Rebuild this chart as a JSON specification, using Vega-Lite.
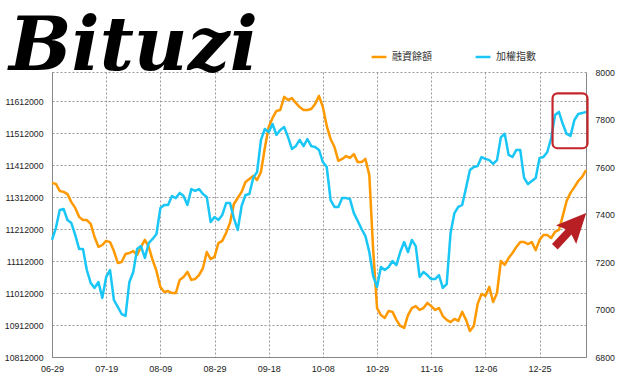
{
  "$schema": "https://vega.github.io/schema/vega-lite/v6.json",
  "width": 534,
  "height": 285,
  "autosize": {"type": "none"},
  "padding": {"left": 52, "top": 72, "right": 34, "bottom": 22},
  "background": "white",
  "view": {"stroke": "#999", "strokeDash": [2, 2], "strokeWidth": 1},
  "title": {
    "text": "Bituzi",
    "anchor": "start",
    "frame": "group",
    "font": "DejaVu Serif",
    "fontSize": 74,
    "fontStyle": "italic",
    "fontWeight": "bold",
    "color": "#000000",
    "dx": -43,
    "dy": 102,
    "offset": 6,
    "baseline": "alphabetic"
  },
  "data": {
    "values": [
      {"date": "2012-06-29", "margin": 11356000, "index": 7293},
      {"date": "2012-07-02", "margin": 11353000, "index": 7343},
      {"date": "2012-07-03", "margin": 11331000, "index": 7419},
      {"date": "2012-07-04", "margin": 11328000, "index": 7423},
      {"date": "2012-07-05", "margin": 11321000, "index": 7377},
      {"date": "2012-07-06", "margin": 11296000, "index": 7364},
      {"date": "2012-07-09", "margin": 11278000, "index": 7314},
      {"date": "2012-07-10", "margin": 11250000, "index": 7255},
      {"date": "2012-07-11", "margin": 11240000, "index": 7255},
      {"date": "2012-07-12", "margin": 11240000, "index": 7166},
      {"date": "2012-07-13", "margin": 11228000, "index": 7112},
      {"date": "2012-07-16", "margin": 11187000, "index": 7091},
      {"date": "2012-07-17", "margin": 11156000, "index": 7116},
      {"date": "2012-07-18", "margin": 11162000, "index": 7049},
      {"date": "2012-07-19", "margin": 11175000, "index": 7137},
      {"date": "2012-07-20", "margin": 11171000, "index": 7166},
      {"date": "2012-07-23", "margin": 11143000, "index": 7040},
      {"date": "2012-07-24", "margin": 11106000, "index": 7011},
      {"date": "2012-07-25", "margin": 11109000, "index": 6981},
      {"date": "2012-07-26", "margin": 11134000, "index": 6973},
      {"date": "2012-07-27", "margin": 11137000, "index": 7116},
      {"date": "2012-07-30", "margin": 11143000, "index": 7158},
      {"date": "2012-07-31", "margin": 11131000, "index": 7255},
      {"date": "2012-08-01", "margin": 11156000, "index": 7267},
      {"date": "2012-08-03", "margin": 11178000, "index": 7217},
      {"date": "2012-08-06", "margin": 11156000, "index": 7280},
      {"date": "2012-08-07", "margin": 11115000, "index": 7297},
      {"date": "2012-08-08", "margin": 11081000, "index": 7318},
      {"date": "2012-08-09", "margin": 11031000, "index": 7427},
      {"date": "2012-08-10", "margin": 11015000, "index": 7440},
      {"date": "2012-08-13", "margin": 11018000, "index": 7440},
      {"date": "2012-08-14", "margin": 11012000, "index": 7478},
      {"date": "2012-08-15", "margin": 11012000, "index": 7469},
      {"date": "2012-08-16", "margin": 11053000, "index": 7491},
      {"date": "2012-08-17", "margin": 11062000, "index": 7478},
      {"date": "2012-08-20", "margin": 11078000, "index": 7440},
      {"date": "2012-08-21", "margin": 11053000, "index": 7507},
      {"date": "2012-08-22", "margin": 11056000, "index": 7499},
      {"date": "2012-08-23", "margin": 11068000, "index": 7507},
      {"date": "2012-08-24", "margin": 11090000, "index": 7486},
      {"date": "2012-08-27", "margin": 11140000, "index": 7474},
      {"date": "2012-08-28", "margin": 11118000, "index": 7368},
      {"date": "2012-08-29", "margin": 11125000, "index": 7389},
      {"date": "2012-08-30", "margin": 11168000, "index": 7377},
      {"date": "2012-08-31", "margin": 11175000, "index": 7398},
      {"date": "2012-09-03", "margin": 11200000, "index": 7448},
      {"date": "2012-09-04", "margin": 11231000, "index": 7448},
      {"date": "2012-09-05", "margin": 11290000, "index": 7385},
      {"date": "2012-09-06", "margin": 11309000, "index": 7335},
      {"date": "2012-09-07", "margin": 11328000, "index": 7436},
      {"date": "2012-09-10", "margin": 11359000, "index": 7482},
      {"date": "2012-09-11", "margin": 11368000, "index": 7486},
      {"date": "2012-09-12", "margin": 11378000, "index": 7554},
      {"date": "2012-09-13", "margin": 11365000, "index": 7579},
      {"date": "2012-09-14", "margin": 11390000, "index": 7714},
      {"date": "2012-09-17", "margin": 11465000, "index": 7760},
      {"date": "2012-09-18", "margin": 11531000, "index": 7747},
      {"date": "2012-09-19", "margin": 11559000, "index": 7781},
      {"date": "2012-09-20", "margin": 11581000, "index": 7735},
      {"date": "2012-09-21", "margin": 11584000, "index": 7756},
      {"date": "2012-09-24", "margin": 11625000, "index": 7768},
      {"date": "2012-09-25", "margin": 11615000, "index": 7726},
      {"date": "2012-09-26", "margin": 11621000, "index": 7676},
      {"date": "2012-09-27", "margin": 11606000, "index": 7688},
      {"date": "2012-09-28", "margin": 11593000, "index": 7714},
      {"date": "2012-10-01", "margin": 11584000, "index": 7688},
      {"date": "2012-10-02", "margin": 11584000, "index": 7718},
      {"date": "2012-10-03", "margin": 11587000, "index": 7688},
      {"date": "2012-10-04", "margin": 11603000, "index": 7684},
      {"date": "2012-10-05", "margin": 11628000, "index": 7672},
      {"date": "2012-10-08", "margin": 11593000, "index": 7621},
      {"date": "2012-10-09", "margin": 11534000, "index": 7600},
      {"date": "2012-10-11", "margin": 11493000, "index": 7461},
      {"date": "2012-10-12", "margin": 11468000, "index": 7432},
      {"date": "2012-10-15", "margin": 11425000, "index": 7432},
      {"date": "2012-10-16", "margin": 11431000, "index": 7469},
      {"date": "2012-10-17", "margin": 11440000, "index": 7469},
      {"date": "2012-10-18", "margin": 11434000, "index": 7465},
      {"date": "2012-10-19", "margin": 11446000, "index": 7406},
      {"date": "2012-10-22", "margin": 11421000, "index": 7373},
      {"date": "2012-10-23", "margin": 11421000, "index": 7339},
      {"date": "2012-10-24", "margin": 11431000, "index": 7309},
      {"date": "2012-10-25", "margin": 11381000, "index": 7242},
      {"date": "2012-10-26", "margin": 11146000, "index": 7141},
      {"date": "2012-10-29", "margin": 10965000, "index": 7095},
      {"date": "2012-10-30", "margin": 10943000, "index": 7179},
      {"date": "2012-10-31", "margin": 10934000, "index": 7166},
      {"date": "2012-11-01", "margin": 10956000, "index": 7179},
      {"date": "2012-11-02", "margin": 10953000, "index": 7204},
      {"date": "2012-11-05", "margin": 10928000, "index": 7187},
      {"date": "2012-11-06", "margin": 10909000, "index": 7242},
      {"date": "2012-11-07", "margin": 10903000, "index": 7284},
      {"date": "2012-11-08", "margin": 10943000, "index": 7242},
      {"date": "2012-11-09", "margin": 10965000, "index": 7293},
      {"date": "2012-11-12", "margin": 10971000, "index": 7267},
      {"date": "2012-11-13", "margin": 10959000, "index": 7137},
      {"date": "2012-11-14", "margin": 10965000, "index": 7158},
      {"date": "2012-11-15", "margin": 10981000, "index": 7145},
      {"date": "2012-11-16", "margin": 10971000, "index": 7128},
      {"date": "2012-11-19", "margin": 10959000, "index": 7128},
      {"date": "2012-11-20", "margin": 10965000, "index": 7145},
      {"date": "2012-11-21", "margin": 10940000, "index": 7091},
      {"date": "2012-11-22", "margin": 10928000, "index": 7107},
      {"date": "2012-11-23", "margin": 10921000, "index": 7322},
      {"date": "2012-11-26", "margin": 10931000, "index": 7406},
      {"date": "2012-11-27", "margin": 10925000, "index": 7432},
      {"date": "2012-11-28", "margin": 10953000, "index": 7440},
      {"date": "2012-11-29", "margin": 10928000, "index": 7512},
      {"date": "2012-11-30", "margin": 10893000, "index": 7587},
      {"date": "2012-12-03", "margin": 10909000, "index": 7600},
      {"date": "2012-12-04", "margin": 10978000, "index": 7604},
      {"date": "2012-12-05", "margin": 11009000, "index": 7642},
      {"date": "2012-12-06", "margin": 11003000, "index": 7634},
      {"date": "2012-12-07", "margin": 11031000, "index": 7629},
      {"date": "2012-12-10", "margin": 10984000, "index": 7613},
      {"date": "2012-12-11", "margin": 11012000, "index": 7629},
      {"date": "2012-12-12", "margin": 11112000, "index": 7725},
      {"date": "2012-12-13", "margin": 11100000, "index": 7740},
      {"date": "2012-12-14", "margin": 11121000, "index": 7651},
      {"date": "2012-12-17", "margin": 11137000, "index": 7642},
      {"date": "2012-12-18", "margin": 11156000, "index": 7672},
      {"date": "2012-12-19", "margin": 11171000, "index": 7672},
      {"date": "2012-12-20", "margin": 11171000, "index": 7554},
      {"date": "2012-12-21", "margin": 11165000, "index": 7528},
      {"date": "2012-12-22", "margin": 11171000, "index": 7541},
      {"date": "2012-12-24", "margin": 11146000, "index": 7554},
      {"date": "2012-12-25", "margin": 11178000, "index": 7638},
      {"date": "2012-12-26", "margin": 11193000, "index": 7642},
      {"date": "2012-12-27", "margin": 11193000, "index": 7663},
      {"date": "2012-12-28", "margin": 11184000, "index": 7722},
      {"date": "2013-01-02", "margin": 11203000, "index": 7819},
      {"date": "2013-01-03", "margin": 11209000, "index": 7832},
      {"date": "2013-01-04", "margin": 11253000, "index": 7781},
      {"date": "2013-01-07", "margin": 11300000, "index": 7739},
      {"date": "2013-01-08", "margin": 11325000, "index": 7731},
      {"date": "2013-01-09", "margin": 11343000, "index": 7798},
      {"date": "2013-01-10", "margin": 11362000, "index": 7823},
      {"date": "2013-01-11", "margin": 11375000, "index": 7827},
      {"date": "2013-01-14", "margin": 11396000, "index": 7832}
    ]
  },
  "layer": [
    {
      "mark": {"type": "line", "strokeWidth": 2.5, "strokeJoin": "round"},
      "encoding": {
        "x": {
          "field": "date",
          "type": "ordinal",
          "scale": {"type": "point", "padding": 0},
          "axis": {
            "title": null,
            "values": ["2012-06-29", "2012-07-19", "2012-08-09", "2012-08-29", "2012-09-18", "2012-10-08", "2012-10-29", "2012-11-16", "2012-12-06", "2012-12-25"],
            "labelExpr": "substring(datum.value, 5)",
            "labelAngle": 0,
            "labelFont": "Liberation Sans",
            "labelFontSize": 9,
            "labelColor": "#222",
            "labelPadding": 7,
            "ticks": false,
            "domainColor": "#888",
            "grid": true,
            "gridColor": "#999",
            "gridDash": [2, 2],
            "gridWidth": 1
          }
        },
        "y": {
          "field": "margin",
          "type": "quantitative",
          "scale": {"domain": [10812000, 11702625], "nice": false, "zero": false},
          "axis": {
            "title": null,
            "values": [10812000, 10912000, 11012000, 11112000, 11212000, 11312000, 11412000, 11512000, 11612000],
            "format": "d",
            "labelFont": "Liberation Sans",
            "labelFontSize": 8.7,
            "labelColor": "#222",
            "labelPadding": 9,
            "ticks": false,
            "domainColor": "#888",
            "grid": true,
            "gridColor": "#999",
            "gridDash": [2, 2],
            "gridWidth": 1
          }
        },
        "color": {
          "datum": "融資餘額",
          "scale": {"domain": ["融資餘額", "加權指數"], "range": ["#ff9900", "#19c6f5"]},
          "legend": {
            "orient": "none",
            "legendX": 318,
            "legendY": -24,
            "direction": "horizontal",
            "title": null,
            "symbolType": "stroke",
            "symbolStrokeWidth": 2.5,
            "symbolSize": 220,
            "labelFont": "Noto Sans CJK TC",
            "labelFontSize": 10,
            "labelColor": "#333",
            "columnPadding": 38
          }
        }
      }
    },
    {
      "layer": [
        {
          "mark": {"type": "line", "strokeWidth": 2.5, "strokeJoin": "round"},
          "encoding": {
            "x": {
              "field": "date",
              "type": "ordinal",
              "scale": {"type": "point", "padding": 0},
              "axis": {
                "title": null,
                "values": ["2012-06-29", "2012-07-19", "2012-08-09", "2012-08-29", "2012-09-18", "2012-10-08", "2012-10-29", "2012-11-16", "2012-12-06", "2012-12-25"],
                "labelExpr": "substring(datum.value, 5)",
                "labelAngle": 0,
                "labelFont": "Liberation Sans",
                "labelFontSize": 9,
                "labelColor": "#222",
                "labelPadding": 7,
                "ticks": false,
                "domainColor": "#888",
                "grid": true,
                "gridColor": "#999",
                "gridDash": [2, 2],
                "gridWidth": 1
              }
            },
            "y": {
              "field": "index",
              "type": "quantitative",
              "scale": {"domain": [6800, 8000], "nice": false, "zero": false},
              "axis": {
                "title": null,
                "orient": "right",
                "values": [6800, 7000, 7200, 7400, 7600, 7800, 8000],
                "format": "d",
                "labelFont": "Liberation Sans",
                "labelFontSize": 8.7,
                "labelColor": "#222",
                "labelPadding": 9,
                "ticks": false,
                "domainColor": "#888",
                "grid": false
              }
            },
            "color": {"datum": "加權指數"}
          }
        },
        {
          "data": {"values": [{"start": "2013-01-02", "end": "2013-01-14", "low": 7679, "high": 7910}]},
          "mark": {"type": "rect", "fill": null, "fillOpacity": 0, "stroke": "#c5262c", "strokeWidth": 2.2, "cornerRadius": 5, "xOffset": -2.5, "x2Offset": 1.5},
          "encoding": {
            "x": {"field": "start", "type": "ordinal"},
            "x2": {"field": "end"},
            "y": {"field": "high", "type": "quantitative"},
            "y2": {"field": "low"}
          }
        },
        {
          "data": {"values": [{"date": "2013-01-08", "v": 7335}]},
          "mark": {
            "type": "point",
            "shape": "M -1 -0.17 L -0.12 -0.17 L -0.28 -0.6 L 1 0 L -0.28 0.6 L -0.12 0.17 L -1 0.17 Z",
            "filled": true,
            "fill": "#b81f25",
            "opacity": 1,
            "strokeWidth": 0,
            "size": 2116,
            "angle": -47
          },
          "encoding": {
            "x": {"field": "date", "type": "ordinal"},
            "y": {"field": "v", "type": "quantitative"}
          }
        }
      ]
    }
  ],
  "resolve": {"scale": {"y": "independent"}}
}
